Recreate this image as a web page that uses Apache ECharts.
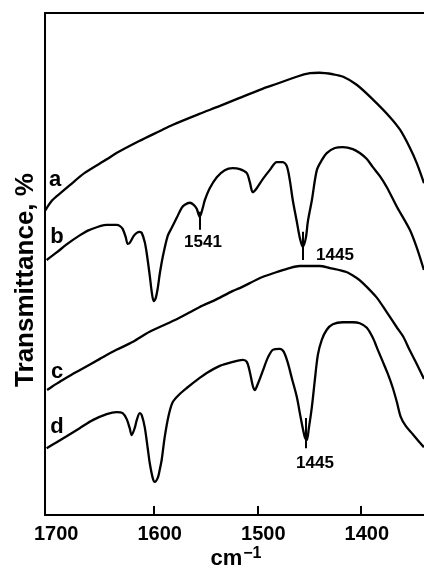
<!DOCTYPE html>
<html>
<head>
<meta charset="utf-8">
<script src="https://cdn.jsdelivr.net/npm/echarts@6/dist/echarts.min.js"></script>
<style>
html,body{margin:0;padding:0;background:#fff;}
#chart{width:424px;height:569px;}
</style>
</head>
<body>
<div id="chart"></div>
<script>
// Wavenumber (cm-1) and transmittance (arbitrary %, offset traces)
const traceA = [
[1705,60.6],[1698,62.7],[1689,64.3],[1681,65.7],[1667,68.1],[1645,70.9],[1636,72.1],[1614,74.5],
[1594,76.5],[1582,77.7],[1556,79.9],[1536,81.5],[1517,83.1],[1495,84.9],[1481,85.9],[1462,87.3],
[1449,88.0],[1440,88.1],[1427,87.8],[1417,87.3],[1404,85.7],[1388,82.7],[1372,79.3],[1362,76.7],
[1353,73.3],[1346,70.1],[1339,66.1]
];
const traceB = [
[1703.4,50.8],[1693.7,52.3],[1684.1,53.9],[1671.5,55.7],[1661.8,56.8],[1645.4,57.8],[1635.7,57.8],
[1632.9,57.6],[1630.0,57.0],[1627.1,55.4],[1625.1,54.0],[1623.2,54.2],[1619.3,55.6],[1616.4,56.2],
[1613.5,56.4],[1611.6,56.2],[1608.7,54.4],[1606.8,52.2],[1603.9,47.8],[1601.9,44.4],[1600.0,42.6],
[1598.1,43.2],[1596.1,45.2],[1594.2,48.0],[1591.3,51.4],[1586.5,55.6],[1582.6,57.2],[1577.8,59.2],
[1573.0,61.2],[1570.0,61.8],[1565.2,62.2],[1561.4,61.8],[1558.5,61.0],[1555.6,59.4],[1552.6,61.2],
[1550.7,62.7],[1545.9,65.1],[1539.1,67.3],[1531.4,68.7],[1523.7,69.1],[1516.9,68.9],[1510.1,68.1],
[1507.2,66.3],[1504.3,64.3],[1500.5,65.1],[1494.7,66.9],[1488.0,68.7],[1481.2,70.3],[1475.4,70.3],
[1471.5,69.5],[1468.6,66.7],[1465.7,62.7],[1461.8,58.4],[1458.9,55.2],[1456.0,53.4],[1453.1,55.2],
[1451.2,58.4],[1447.3,62.7],[1442.5,68.7],[1437.7,70.7],[1432.9,72.1],[1425.1,73.1],[1417.4,73.3],
[1407.7,72.9],[1401.0,72.1],[1394.2,70.9],[1388.4,69.3],[1381.6,67.5],[1374.9,65.3],[1365.2,61.4],
[1352.7,56.8],[1345.9,53.2],[1339.1,48.8]
];
const traceC = [
[1703,24.9],[1698,25.6],[1691,26.5],[1684,27.4],[1672,28.8],[1652,31.1],[1636,32.9],[1620,34.5],
[1604,36.5],[1580,38.8],[1565,40.4],[1556,41.4],[1539,43.0],[1524,44.6],[1517,45.2],[1495,47.4],
[1481,48.4],[1469,49.2],[1459,49.6],[1449,49.6],[1440,49.6],[1430,49.2],[1414,48.4],[1404,47.2],
[1398,46.2],[1385,43.4],[1375,40.4],[1365,37.3],[1359,35.5],[1353,32.9],[1346,30.1],[1339,27.1]
];
const traceD = [
[1703.4,13.3],[1693.7,14.5],[1684.1,15.7],[1671.5,17.3],[1658.9,18.9],[1645.4,20.1],[1635.7,20.5],
[1630.0,20.3],[1626.1,19.1],[1623.2,17.3],[1621.3,15.9],[1618.4,17.3],[1616.4,18.9],[1613.5,20.3],
[1611.6,19.9],[1608.7,17.5],[1605.8,13.3],[1603.9,10.4],[1601.0,7.4],[1599.0,6.6],[1596.1,7.4],
[1594.2,9.0],[1592.3,11.0],[1589.4,15.5],[1585.5,19.9],[1581.6,22.5],[1574.9,24.1],[1568.1,25.3],
[1555.6,27.3],[1548.8,28.3],[1536.2,29.7],[1523.7,30.5],[1514.0,30.9],[1510.1,30.5],[1507.2,28.5],
[1504.3,25.7],[1502.4,24.9],[1499.5,26.1],[1494.7,28.7],[1489.9,31.3],[1485.0,32.9],[1478.3,33.1],
[1474.4,32.5],[1470.5,30.3],[1466.7,27.3],[1461.8,23.5],[1458.0,19.3],[1454.1,15.5],[1452.2,14.9],
[1450.2,17.3],[1447.3,21.5],[1444.4,26.9],[1441.5,31.9],[1437.7,34.9],[1432.9,36.9],[1427.1,38.0],
[1417.4,38.4],[1407.7,38.4],[1401.0,38.2],[1394.2,37.3],[1388.4,35.3],[1383.6,32.9],[1378.7,30.5],
[1373.9,28.1],[1369.1,25.3],[1365.2,22.5],[1361.4,19.5],[1356.5,17.7],[1349.8,16.1],[1345.0,14.9],
[1339.1,13.5]
];
// Peak marker lines (wavenumber, from, to)
const peakMarksB = [[1555.6,60.4,56.8],[1456.0,56.4,50.8]];
const peakMarksD = [[1453.1,19.3,13.3]];
const tickValues = [1600,1500,1400];
const labelValues = [1700,1600,1500,1400];
const traceLetters = ['a','b','c','d'];

const FONT = '"Liberation Sans", Arial, sans-serif';
const chart = echarts.init(document.getElementById('chart'));

function mk(marks){
  return {
    symbol:['none','none'], silent:true, animation:false,
    lineStyle:{color:'#000', width:2, type:'solid'}, label:{show:false},
    data: marks.map(m => [{coord:[m[0],m[1]]},{coord:[m[0],m[2]]}])
  };
}
function line(name, data, marks){
  const s = {name, type:'line', data, showSymbol:false, smooth:0.3, xAxisIndex:0,
    lineStyle:{color:'#000', width:2.3}, animation:false, z:3};
  if (marks) s.markLine = mk(marks);
  return s;
}

chart.setOption({
  backgroundColor:'#fff',
  animation:false,
  grid:{left:45, right:0, top:13, bottom:54},
  xAxis:[{
    type:'value', min:1339, max:1705, inverse:true,
    axisLine:{show:true, lineStyle:{color:'#000', width:2}},
    axisTick:{show:true, inside:true, length:9, customValues:tickValues, lineStyle:{color:'#000', width:2}},
    axisLabel:{show:true, customValues:labelValues, formatter:(v)=>String(v), margin:9, color:'#000', fontSize:20, fontWeight:'bold', fontFamily:FONT, padding:[0,0,0,12]},
    splitLine:{show:false}
  },{
    type:'value', position:'top', min:1339, max:1705, inverse:true,
    axisLine:{show:true, lineStyle:{color:'#000', width:2}},
    axisTick:{show:false}, axisLabel:{show:false}, splitLine:{show:false}
  }],
  yAxis:{
    type:'value', min:0, max:100,
    axisLine:{show:true, lineStyle:{color:'#000', width:2}},
    axisTick:{show:false}, axisLabel:{show:false}, splitLine:{show:false}
  },
  series:[
    line('a', traceA),
    line('b', traceB, peakMarksB),
    line('c', traceC),
    line('d', traceD, peakMarksD)
  ],
  graphic:[
    {type:'text', x:26, y:280, rotation:Math.PI/2, style:{text:'Transmittance, %', font:'bold 26px '+FONT, fill:'#000', align:'center', verticalAlign:'middle'}},
    {type:'text', x:55, y:180, style:{text:traceLetters[0], font:'bold 22px '+FONT, fill:'#000', align:'center', verticalAlign:'middle'}},
    {type:'text', x:57, y:237, style:{text:traceLetters[1], font:'bold 22px '+FONT, fill:'#000', align:'center', verticalAlign:'middle'}},
    {type:'text', x:57, y:372, style:{text:traceLetters[2], font:'bold 22px '+FONT, fill:'#000', align:'center', verticalAlign:'middle'}},
    {type:'text', x:57, y:427, style:{text:traceLetters[3], font:'bold 22px '+FONT, fill:'#000', align:'center', verticalAlign:'middle'}},
    {type:'text', x:203, y:242, style:{text:'1541', font:'bold 17px '+FONT, fill:'#000', align:'center', verticalAlign:'middle'}},
    {type:'text', x:335, y:255, style:{text:'1445', font:'bold 17px '+FONT, fill:'#000', align:'center', verticalAlign:'middle'}},
    {type:'text', x:315, y:463, style:{text:'1445', font:'bold 17px '+FONT, fill:'#000', align:'center', verticalAlign:'middle'}},
    {type:'text', x:236, y:558, style:{
      text:'{m|cm}{s|−1}', align:'center', verticalAlign:'middle',
      rich:{m:{font:'bold 22px '+FONT, fill:'#000', verticalAlign:'bottom'}, s:{font:'bold 16px '+FONT, fill:'#000', verticalAlign:'top', padding:[0,0,8,1]}}
    }}
  ]
});
</script>
</body>
</html>
